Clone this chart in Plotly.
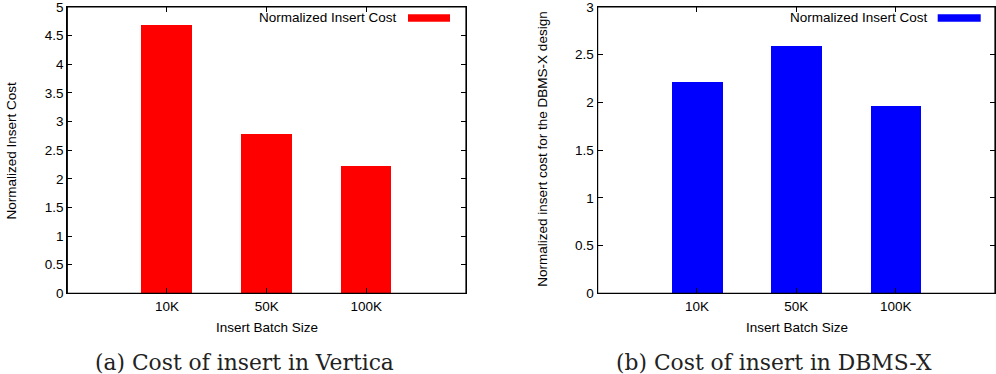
import plotly.graph_objects as go

W, H = 996, 374

categories = ["10K", "50K", "100K"]
vertica_cost = [4.68, 2.78, 2.22]
dbmsx_cost = [2.21, 2.59, 1.96]
series_name = "Normalized Insert Cost"
left_ticks = [0, 0.5, 1, 1.5, 2, 2.5, 3, 3.5, 4, 4.5, 5]
right_ticks = [0, 0.5, 1, 1.5, 2, 2.5, 3]

SANS = "Liberation Sans"
SERIF = "DejaVu Serif"
FS = 13.5
TFS = 13.5


def px(x):
    return x / W


def py(y):
    return (H - y) / H


ydom = [py(293.3), py(7)]
left_dom = [px(67.3), px(466)]
right_dom = [px(597.6), px(995)]

fig = go.Figure()
fig.add_trace(go.Bar(x=categories, y=vertica_cost, name=series_name,
                     marker=dict(color="#ff0000", line=dict(width=0)),
                     width=0.51, xaxis="x", yaxis="y", showlegend=False))
fig.add_trace(go.Bar(x=categories, y=dbmsx_cost, name=series_name,
                     marker=dict(color="#0000ff", line=dict(width=0)),
                     width=0.51, xaxis="x2", yaxis="y2", showlegend=False))

axis_common = dict(showline=True, linecolor="black", linewidth=1.2,
                   showgrid=False, zeroline=False, automargin=False,
                   ticks="inside", ticklen=5, tickcolor="black",
                   mirror="ticks", ticklabeloverflow="allow",
                   tickfont=dict(family=SANS, size=TFS, color="black"))

xcommon = dict(type="category", categoryorder="array", categoryarray=categories,
               range=[-1, 3])

fig.update_layout(
    template="none",
    width=W, height=H,
    margin=dict(l=0, r=0, t=0, b=0, pad=0, autoexpand=False),
    paper_bgcolor="white", plot_bgcolor="white",
    bargap=0,
    showlegend=False,
    xaxis=dict(domain=left_dom, anchor="y", **xcommon, **axis_common),
    yaxis=dict(domain=ydom, anchor="x", range=[0, 5], tickvals=left_ticks,
               **axis_common),
    xaxis2=dict(domain=right_dom, anchor="y2", **xcommon, **axis_common),
    yaxis2=dict(domain=ydom, anchor="x2", range=[0, 3], tickvals=right_ticks,
                **axis_common),
)

ann = []
# axis titles
ann.append(dict(text="Normalized Insert Cost", x=px(11), y=py(150.5), textangle=-90,
                font=dict(family=SANS, size=FS, color="black")))
ann.append(dict(text="Normalized insert cost for the DBMS-X design", x=px(541.7),
                y=py(149), textangle=-90,
                font=dict(family=SANS, size=FS, color="black")))
ann.append(dict(text="Insert Batch Size", x=px(266.5), y=py(327.5),
                font=dict(family=SANS, size=FS, color="black")))
ann.append(dict(text="Insert Batch Size", x=px(796.8), y=py(327.5),
                font=dict(family=SANS, size=FS, color="black")))
# captions
ann.append(dict(text="(a) Cost of insert in Vertica", x=px(244), y=py(362),
                font=dict(family=SERIF, size=21.8, color="#222222")))
ann.append(dict(text="(b) Cost of insert in DBMS-X", x=px(774), y=py(362),
                font=dict(family=SERIF, size=21.8, color="#222222")))
# legend texts
ann.append(dict(text=series_name, x=px(399.3), y=py(18), xanchor="right",
                font=dict(family=SANS, size=FS, color="black")))
ann.append(dict(text=series_name, x=px(930), y=py(18), xanchor="right",
                font=dict(family=SANS, size=FS, color="black")))
for a in ann:
    a.setdefault("xanchor", "center")
    a.update(xref="paper", yref="paper", yanchor="middle", showarrow=False)

shapes = [
    dict(type="rect", xref="paper", yref="paper", x0=px(408), x1=px(450),
         y0=py(21.7), y1=py(14.3), fillcolor="#ff0000", line=dict(width=0)),
    dict(type="rect", xref="paper", yref="paper", x0=px(937.7), x1=px(980.7),
         y0=py(21.7), y1=py(14.3), fillcolor="#0000ff", line=dict(width=0)),
    # plot frames (same as the mirrored axis lines)
    dict(type="rect", xref="x domain", yref="y domain", x0=0, x1=1, y0=0, y1=1,
         line=dict(color="black", width=1.2), fillcolor="rgba(0,0,0,0)"),
    dict(type="rect", xref="x2 domain", yref="y2 domain", x0=0, x1=1, y0=0, y1=1,
         line=dict(color="black", width=1.2), fillcolor="rgba(0,0,0,0)"),
]

fig.update_layout(annotations=ann, shapes=shapes)
fig.write_html("out.html")
